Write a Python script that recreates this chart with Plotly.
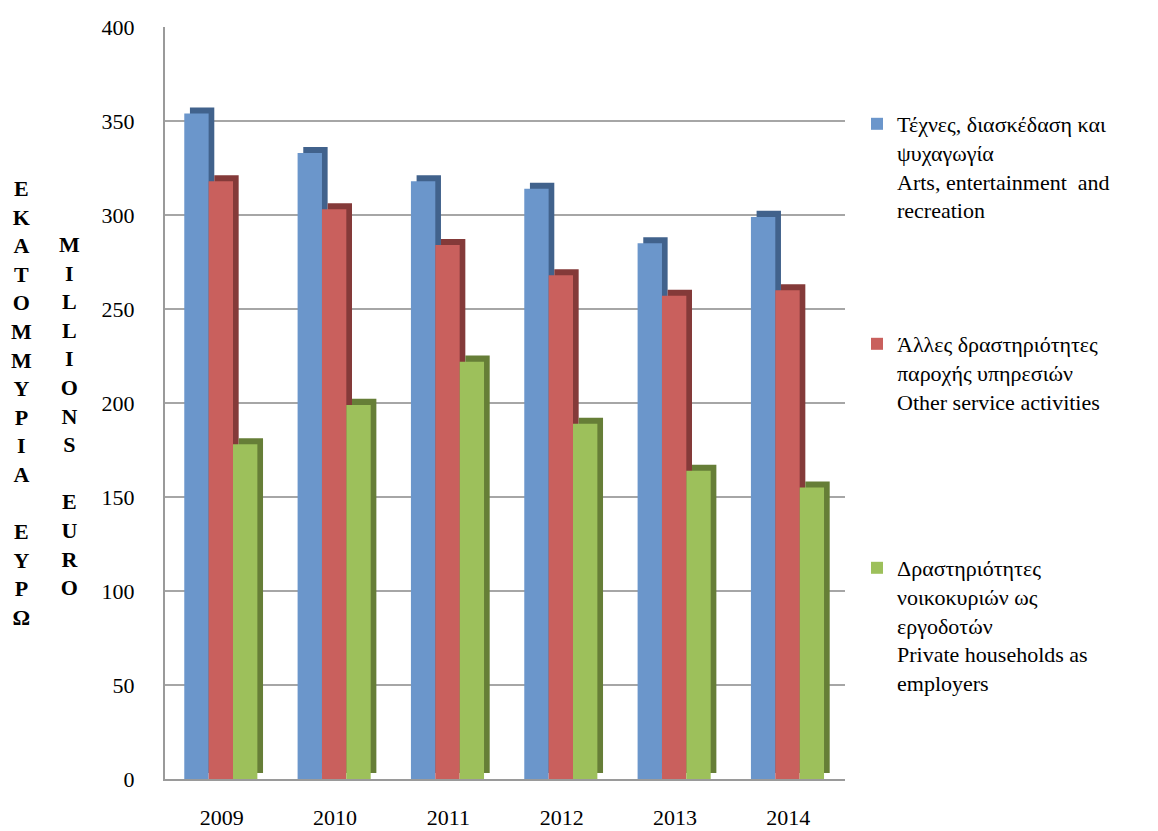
import plotly.graph_objects as go

years = ["2009", "2010", "2011", "2012", "2013", "2014"]
arts = [354, 333, 318, 314, 285, 299]
other = [318, 303, 284, 268, 257, 260]
households = [178, 199, 222, 189, 164, 155]

names = [
    "Τέχνες, διασκέδαση και<br>ψυχαγωγία<br>Arts, entertainment  and<br>recreation",
    "Άλλες δραστηριότητες<br>παροχής υπηρεσιών<br>Other service activities",
    "Δραστηριότητες<br>νοικοκυριών ως<br>εργοδοτών<br>Private households as<br>employers",
]
front_colors = ["#6b96cb", "#c9605d", "#9dc05b"]
side_colors = ["#41628c", "#843a39", "#667e37"]
series = [arts, other, households]

FONT = "Liberation Serif, Times New Roman, DejaVu Serif, serif"

xpos = list(range(len(years)))
fig = go.Figure()
width = 0.215
depth_x = 0.05
depth_y = 3.2
legends = ["legend", "legend2", "legend3"]
for i, vals in enumerate(series):
    off = -0.33 + i * width
    fig.add_trace(go.Bar(x=xpos, y=vals, base=depth_y, offset=off + depth_x, width=width,
                         marker=dict(color=side_colors[i], line=dict(width=0)),
                         showlegend=False, hoverinfo="skip"))
    fig.add_trace(go.Bar(x=xpos, y=vals, offset=off, width=width, name=names[i],
                         marker=dict(color=front_colors[i], line=dict(width=0)),
                         legend=legends[i]))

# page body has an 8px margin: figure is drawn at (8, 8)
PX0, PY0 = 165, 779  # plot-area left / zero line in page pixels
legend_common = dict(x=(857 - PX0) / 680, xanchor="left", yanchor="top", valign="top",
                     font=dict(family=FONT, size=22, color="#000"),
                     bgcolor="rgba(0,0,0,0)", itemwidth=30)
fig.update_layout(
    width=1150, height=823,
    margin=dict(l=157, r=313, t=19, b=52, autoexpand=False),
    paper_bgcolor="white", plot_bgcolor="white",
    barmode="overlay",
    font=dict(family=FONT, size=22, color="#000"),
    legend=dict(y=(PY0 - 103) / 752, **legend_common),
    legend2=dict(y=(PY0 - 323) / 752, **legend_common),
    legend3=dict(y=(PY0 - 547) / 752, **legend_common),
    xaxis=dict(tickvals=xpos, ticktext=years, range=[-0.5, 5.5], automargin=False,
               showgrid=False, showline=True, linecolor="#9a9a9a", linewidth=2,
               ticks="", ticklabelstandoff=18, tickfont=dict(family=FONT, size=22)),
    yaxis=dict(range=[0, 400], dtick=50, showgrid=True, gridcolor="#a6a6a6", gridwidth=2,
               showline=True, linecolor="#9a9a9a", linewidth=2, zeroline=False, automargin=False,
               ticks="", ticklabelstandoff=24, tickfont=dict(family=FONT, size=22)),
)

col1 = "<br>".join(list("ΕΚΑΤΟΜΜΥΡΙΑ") + [" "] + list("ΕΥΡΩ"))
col2 = "<br>".join(list("MILLIONS") + [" "] + list("EURO"))
fig.add_annotation(text="<b>" + col1 + "</b>", xref="paper", yref="paper",
                   x=(21 - PX0) / 680, y=(PY0 - 174) / 752, xanchor="center", yanchor="top",
                   showarrow=False, align="center",
                   font=dict(family=FONT, size=22, color="#000"))
fig.add_annotation(text="<b>" + col2 + "</b>", xref="paper", yref="paper",
                   x=(69 - PX0) / 680, y=(PY0 - 230) / 752, xanchor="center", yanchor="top",
                   showarrow=False, align="center",
                   font=dict(family=FONT, size=22, color="#000"))

fig.write_html("out.html")
